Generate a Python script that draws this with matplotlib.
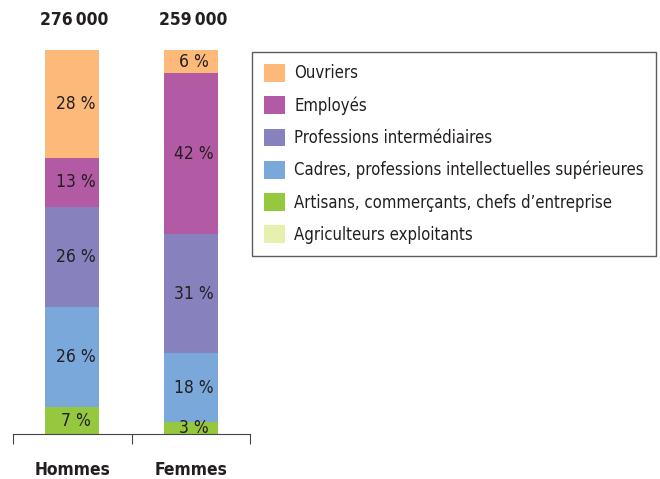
import numpy as np
import matplotlib.pyplot as plt
from matplotlib.patches import Patch

plt.rcParams['font.family'] = ['DejaVu Sans']
plt.rcParams['font.stretch'] = 'condensed'

groups = ['Hommes', 'Femmes']
totals = ['276\u2009000', '259\u2009000']
categories = ['Agriculteurs exploitants',
              'Artisans, commerçants, chefs d\u2019entreprise',
              'Cadres, professions intellectuelles supérieures',
              'Professions intermédiaires',
              'Employés',
              'Ouvriers']
hommes = [0, 7, 26, 26, 13, 28]
femmes = [0, 3, 18, 31, 42, 6]
colors = ['#e8f0b0', '#96c83f', '#7aa8da', '#8782be', '#b35aa5', '#fdb97a']

fig = plt.figure(figsize=(6.6, 4.79), dpi=100)
ax = fig.add_axes([13 / 660, 1 - 434 / 479, (250 - 13) / 660, 384 / 479])

x = np.arange(len(groups))
values = np.array([hommes, femmes]).T
bottom = np.zeros(len(groups))
for i, cat in enumerate(categories):
    ax.bar(x, values[i], 0.455, bottom=bottom, color=colors[i], linewidth=0)
    for j in range(len(groups)):
        v = values[i][j]
        if v > 0:
            ax.text(x[j] + 0.03, bottom[j] + v / 2, f'{v} %', ha='center', va='center',
                    fontsize=12.5, color='#231f20')
    bottom += values[i]

ax.set_xlim(-0.5, 1.5)
ax.set_ylim(0, 100)
for s in ['top', 'left', 'right']:
    ax.spines[s].set_visible(False)
ax.spines['bottom'].set_color('#444444')
ax.set_yticks([])
ax.set_xticks([-0.5, 0.5, 1.5])
ax.set_xticklabels([])
ax.tick_params(axis='x', direction='out', length=7, color='#444444')

for j in range(len(groups)):
    ax.text(x[j] + 0.02, 107.8, totals[j], ha='center', va='center', fontsize=12.5,
            fontweight='bold', color='#231f20')
    ax.text(x[j], -9.3, groups[j], ha='center', va='center', fontsize=12.5,
            fontweight='bold', color='#231f20')

handles = [Patch(facecolor=c, edgecolor='none') for c in colors[::-1]]
leg = fig.legend(handles, categories[::-1], loc='upper left',
                 bbox_to_anchor=(252 / 660, 1 - 52 / 479), frameon=True,
                 fancybox=False, edgecolor='#333333', fontsize=12,
                 handlelength=1.25, handleheight=1.25, handletextpad=0.55,
                 labelspacing=0.83, borderpad=0.72, borderaxespad=0)
leg.get_frame().set_linewidth(1)
for t in leg.get_texts():
    t.set_color('#231f20')

fig.savefig('out.png', dpi=100)
